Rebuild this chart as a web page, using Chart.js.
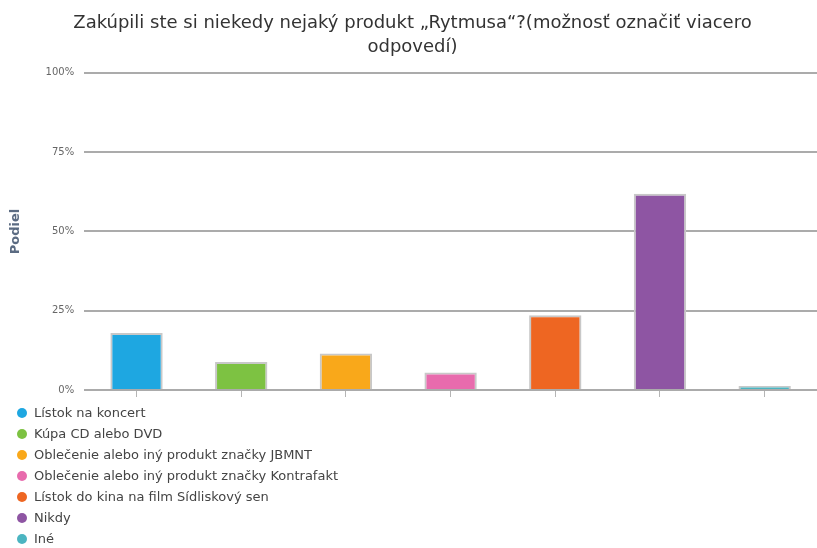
<html>
<head>
<script src="https://cdn.jsdelivr.net/npm/chart.js@4.4.1/dist/chart.umd.min.js"></script>
<style>
  body { margin: 0; background: #fff; }
  #legend { list-style: none; margin: -4px 0 0 0; padding: 0 0 0 17px; font-family: "DejaVu Sans", sans-serif; font-size: 13px; color: #444; }
  #legend li { height: 21px; line-height: 21px; }
  #legend span.dot { display: inline-block; width: 10px; height: 10px; border-radius: 50%; margin-right: 7px; vertical-align: -1px; }
</style>
</head>
<body>
<canvas id="myChart" width="817" height="406"></canvas>
<ul id="legend"></ul>
<script>
  var categories = ['Lístok na koncert', 'Kúpa CD alebo DVD', 'Oblečenie alebo iný produkt značky JBMNT',
    'Oblečenie alebo iný produkt značky Kontrafakt', 'Lístok do kina na film Sídliskový sen', 'Nikdy', 'Iné'];
  var shares = [18.0, 8.8, 11.5, 5.5, 23.6, 61.9, 1.3];
  var yTicks = [0, 25, 50, 75, 100];
  var barColors = ['#1ea7e1', '#7dc242', '#f9a81a', '#e86bad', '#ee6622', '#8e55a3', '#4bb5c1'];
  var titleLines = ['Zakúpili ste si niekedy nejaký produkt „Rytmusa“?(možnosť označiť viacero', 'odpovedí)'];

  var ctx = document.getElementById('myChart').getContext('2d');
  var myChart = new Chart(ctx, {
    type: 'bar',
    data: {
      labels: categories,
      datasets: [{
        data: shares,
        backgroundColor: barColors,
        borderColor: '#c8c8c8',
        borderWidth: 2,
        categoryPercentage: 1,
        barPercentage: 0.5
      }]
    },
    options: {
      responsive: false,
      animation: false,
      layout: { padding: { left: 8, right: 0, top: 0, bottom: 2 } },
      plugins: {
        legend: { display: false },
        tooltip: { enabled: false },
        title: {
          display: true,
          text: titleLines,
          color: '#333',
          font: { family: 'DejaVu Sans', size: 18, weight: 'normal', lineHeight: 1.33 },
          padding: { top: 11, bottom: 14 }
        }
      },
      scales: {
        x: {
          grid: { drawOnChartArea: false, offset: false, color: '#b5b5b5', lineWidth: 1, tickLength: 7 },
          border: { display: false },
          ticks: { display: false }
        },
        y: {
          min: 0, max: 100,
          afterBuildTicks: function(axis) { axis.ticks = yTicks.map(function(v) { return { value: v }; }); },
          grid: { color: '#ababab', lineWidth: 2, drawTicks: false },
          border: { display: false },
          ticks: {
            padding: 10,
            color: '#666',
            font: { family: 'DejaVu Sans', size: 10 },
            callback: function(v) { return v + '%'; }
          },
          title: {
            display: true,
            text: 'Podiel',
            color: '#5b6b82',
            font: { family: 'DejaVu Sans', size: 13, weight: 'bold' },
            padding: { top: 0, bottom: 12 }
          }
        }
      }
    }
  });

  var legendHtml = '';
  for (var i = 0; i < categories.length; i++) {
    legendHtml += '<li><span class="dot" style="background:' + barColors[i] + '"></span>' + categories[i] + '</li>';
  }
  document.getElementById('legend').innerHTML = legendHtml;
</script>
</body>
</html>
